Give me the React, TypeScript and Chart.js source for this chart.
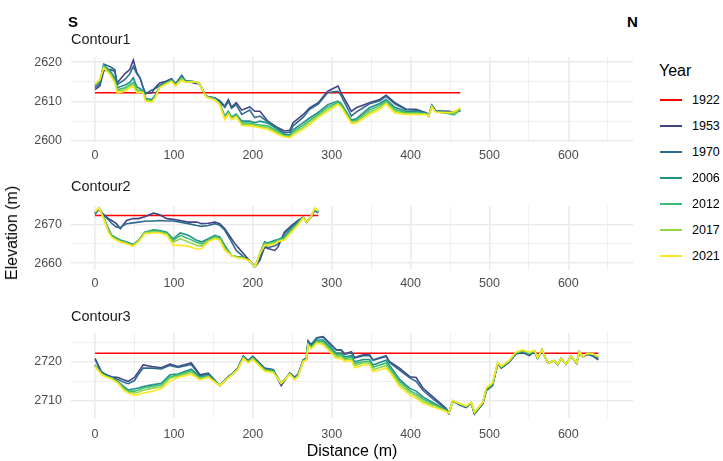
import React, { useEffect, useRef } from "react";
import { Chart, registerables } from "chart.js";
Chart.register(...registerables);

const FONT = '"Liberation Sans", Arial, Helvetica, sans-serif';
const YEARS = ["1922", "1953", "1970", "2006", "2012", "2017", "2021"];
const COLORS = ["#FF0000", "#414487", "#2F6B8E", "#21918C", "#3BBB75", "#8FD744", "#FDE725"];
const X_TICKS = [0, 50, 100, 150, 200, 250, 300, 350, 400, 450, 500, 550, 600, 650];
const REF_1922 = [2612.2, 2672.3, 2722.2];

// ---------- Contour1 ----------
const c1Dist = [0,6,11,19,25,28,38,44,48.5,53,57,61,64,72,76,82,89,97,102,110,114,127,132,141,152,158,164.5,169,173,179,186,196,202.5,209,219,232,240,247,251,264,272,283,295,308,312,325,331,348,361,369,380,394,407,420,423,427,432,449,455,463];
const c1Y1953 = [2613.0,2613.9,2617.8,2618.1,2617.7,2614.7,2617.1,2618.1,2620.5,2617.3,2616.0,2613.5,2612.0,2612.2,2613.5,2614.7,2615.1,2615.8,2614.5,2616.6,2615.4,2614.6,2614.5,2611.3,2610.9,2610.2,2608.8,2610.5,2608.6,2609.7,2607.8,2608.6,2607.5,2607.5,2605.0,2603.3,2602.5,2602.7,2604.6,2606.7,2608.4,2609.7,2612.6,2613.9,2612.2,2607.5,2608.4,2609.7,2610.5,2611.6,2609.7,2608.1,2608.0,2607.1,2606.3,2609.0,2607.5,2607.5,2607.3,2607.6];
const c1Y1970 = [2613.5,2614.5,2619.5,2618.8,2618.1,2614.3,2615.6,2617.0,2618.9,2617.0,2616.0,2613.5,2612.0,2612.9,2613.2,2614.1,2614.8,2615.6,2614.4,2616.5,2615.3,2615.0,2614.6,2611.3,2610.8,2610.0,2608.5,2610.0,2608.3,2609.2,2606.7,2607.8,2605.9,2606.3,2604.8,2603.1,2602.0,2602.2,2603.8,2606.0,2608.0,2609.3,2612.3,2612.6,2611.5,2606.3,2607.3,2609.4,2610.2,2611.3,2609.4,2607.9,2607.8,2607.1,2606.4,2609.0,2607.6,2607.4,2607.2,2607.7];
const c1Y2006 = [2614.0,2615.0,2619.2,2617.8,2616.0,2613.5,2614.2,2614.8,2616.0,2613.7,2613.3,2612.6,2610.8,2610.5,2611.5,2613.8,2614.6,2615.5,2614.3,2616.2,2615.2,2615.0,2614.6,2611.3,2610.7,2609.6,2606.2,2607.5,2606.0,2606.8,2605.0,2605.0,2604.6,2605.0,2604.5,2602.8,2601.6,2601.5,2602.8,2604.6,2605.8,2607.2,2609.2,2610.1,2609.5,2605.3,2605.6,2608.4,2609.5,2610.5,2608.5,2607.5,2607.4,2607.0,2606.5,2608.9,2607.5,2607.0,2606.7,2607.9];
const c1Y2012 = [2614.2,2615.3,2619.0,2617.3,2615.3,2613.0,2613.5,2614.2,2614.8,2613.0,2612.8,2612.5,2610.5,2610.2,2611.2,2613.7,2614.5,2615.3,2614.2,2616.0,2615.1,2615.0,2614.6,2611.2,2610.6,2609.5,2605.9,2607.2,2605.8,2606.5,2604.5,2604.5,2604.2,2604.0,2603.8,2602.3,2601.3,2601.2,2602.3,2604.0,2605.2,2606.7,2608.6,2609.8,2609.2,2605.0,2605.2,2607.8,2609.0,2610.1,2608.0,2607.1,2607.1,2606.9,2606.4,2608.8,2607.4,2606.9,2606.6,2608.0];
const c1Y2017 = [2614.3,2615.5,2618.8,2617.0,2615.0,2612.6,2613.0,2613.8,2614.3,2612.6,2612.5,2612.3,2610.3,2610.0,2611.0,2613.6,2614.4,2615.2,2614.1,2615.8,2615.0,2615.0,2614.6,2611.2,2610.5,2609.3,2605.6,2607.0,2605.6,2606.3,2604.2,2604.2,2603.9,2603.6,2603.3,2602.0,2601.2,2601.0,2601.9,2603.4,2604.7,2606.3,2608.0,2609.5,2608.8,2604.7,2604.8,2607.2,2608.5,2609.7,2607.5,2606.9,2606.9,2606.8,2606.3,2608.7,2607.3,2607.1,2607.0,2608.2];
const c1Y2021 = [2614.4,2615.6,2618.5,2616.8,2614.7,2612.2,2612.6,2613.5,2613.7,2612.2,2612.4,2612.2,2610.1,2609.8,2610.9,2613.5,2614.3,2615.1,2613.9,2615.4,2614.9,2615.0,2614.6,2611.1,2610.4,2609.2,2605.4,2606.7,2605.4,2606.1,2603.9,2603.8,2603.6,2603.3,2602.9,2601.6,2601.0,2600.8,2601.4,2602.9,2604.2,2605.9,2607.5,2609.2,2608.5,2604.4,2604.5,2606.7,2608.0,2609.4,2607.1,2606.7,2606.7,2606.7,2606.3,2608.6,2607.2,2607.2,2607.4,2608.4];

// ---------- Contour2 ----------
const c2Dist = [0,5,10,17,21,27,32,40,48,55,63,74,82,91,99,108,118,129,135,143.5,152,158,164.5,173,179,188,196,203,209,215,219,228,232,240,249,257,264,268,274,278.5,283];
const c2Y1953 = [2672.6,2674.0,2672.7,2671.5,2671.0,2670.2,2668.9,2671.0,2671.5,2671.5,2672.0,2672.9,2672.5,2671.5,2671.3,2671.0,2670.6,2670.6,2670.2,2670.3,2670.6,2670.2,2668.9,2666.3,2664.6,2662.5,2660.6,2659.1,2660.8,2664.2,2663.8,2663.3,2664.2,2668.0,2669.7,2671.0,2671.9,2670.6,2671.9,2673.6,2673.0];
const c2Y1970 = [2672.8,2674.0,2672.5,2671.2,2670.3,2669.3,2669.2,2670.2,2670.4,2670.6,2670.8,2670.9,2671.0,2670.9,2670.9,2670.6,2670.2,2669.7,2669.5,2669.7,2670.2,2669.8,2668.5,2665.5,2663.3,2661.7,2660.6,2659.1,2661.5,2664.6,2664.0,2664.5,2664.9,2667.6,2669.4,2670.8,2671.9,2670.6,2671.9,2673.8,2673.1];
const c2Y2006 = [2673.0,2674.2,2672.3,2668.9,2667.2,2666.5,2666.0,2665.5,2664.8,2665.9,2668.0,2668.6,2668.4,2668.0,2666.3,2667.8,2667.2,2665.9,2665.5,2666.3,2667.2,2666.8,2664.6,2662.0,2661.7,2661.5,2660.6,2659.1,2662.5,2665.5,2665.2,2665.9,2666.1,2666.8,2669.0,2670.5,2671.9,2670.6,2672.0,2674.0,2673.2];
const c2Y2012 = [2673.0,2674.2,2672.2,2668.6,2667.0,2666.3,2665.8,2665.3,2664.6,2665.8,2667.9,2668.4,2668.2,2667.8,2665.9,2667.2,2666.4,2665.4,2665.0,2666.0,2666.9,2666.5,2664.2,2662.0,2661.6,2661.4,2660.6,2659.1,2662.5,2665.2,2665.0,2665.6,2665.9,2666.5,2668.6,2670.2,2671.8,2670.6,2672.0,2674.0,2673.3];
const c2Y2017 = [2673.2,2674.3,2672.0,2668.3,2666.8,2666.1,2665.6,2665.1,2664.5,2665.6,2667.8,2668.1,2668.0,2667.5,2665.4,2666.3,2665.5,2664.6,2664.4,2665.8,2666.6,2666.2,2663.8,2662.0,2661.5,2661.3,2660.6,2659.1,2662.5,2664.9,2664.8,2665.3,2665.7,2666.2,2668.3,2670.0,2671.8,2670.6,2672.0,2674.1,2673.4];
const c2Y2021 = [2673.3,2674.3,2671.9,2668.0,2666.7,2665.9,2665.5,2665.0,2664.4,2665.5,2667.6,2667.8,2667.8,2667.2,2664.6,2664.6,2664.4,2663.6,2663.8,2665.5,2666.3,2665.9,2663.3,2662.0,2661.5,2661.2,2660.6,2659.1,2662.5,2664.6,2664.6,2665.0,2665.6,2665.9,2668.0,2669.7,2671.7,2670.6,2672.0,2674.2,2673.5];

// ---------- Contour3 ----------
const c3Dist = [0,8,13,21,29,36,42,50,55,61,72,84,95,105,122,133,143.5,158,169,175,181,188,194,200,215,226,236,247,253,257.5,264,268,270,274,281,289,297.5,306,312,316.5,325,329,340,348,352.3,369,373,386,399,407,415.6,428,445,448.5,453.5,462,470.5,477,481,491.5,496,504,510.5,515,525,533.5,542,550.5,557,561,566.5,574,582,586.5,591,597,603.5,610.5,614,618,624.5,631,638];
const c3Y1953 = [2720.9,2717.5,2716.8,2716.2,2716.0,2715.4,2715.0,2716.0,2717.5,2719.2,2718.8,2718.5,2719.4,2718.8,2719.7,2716.7,2717.1,2713.9,2716.2,2717.1,2718.4,2721.5,2720.3,2721.4,2718.4,2718.0,2713.9,2717.1,2716.0,2716.8,2720.5,2720.9,2725.4,2724.4,2726.2,2726.5,2724.8,2723.1,2723.1,2722.0,2722.6,2721.1,2721.8,2721.8,2720.5,2721.6,2720.1,2718.4,2716.2,2716.0,2713.3,2711.1,2708.1,2706.8,2710.0,2709.0,2708.3,2709.4,2706.6,2709.2,2712.6,2713.9,2719.5,2718.4,2719.9,2722.0,2722.4,2721.6,2722.6,2720.9,2723.0,2719.7,2720.3,2719.3,2720.9,2719.4,2721.4,2719.6,2722.6,2721.3,2721.9,2721.5,2720.5];
const c3Y1970 = [2720.6,2717.4,2716.7,2716.0,2715.5,2714.8,2714.4,2715.2,2716.8,2718.4,2718.4,2718.2,2719.1,2718.6,2719.3,2716.4,2716.9,2713.9,2716.2,2717.1,2718.4,2721.4,2720.2,2721.3,2718.3,2717.9,2714.3,2717.1,2716.0,2716.8,2720.5,2720.9,2725.2,2724.2,2726.1,2726.3,2724.6,2723.0,2723.0,2721.9,2722.4,2721.0,2721.6,2721.6,2720.4,2721.4,2719.9,2717.9,2715.9,2715.0,2712.7,2710.6,2707.9,2706.8,2710.0,2709.0,2708.4,2709.4,2706.7,2709.3,2712.7,2714.0,2719.6,2718.5,2720.0,2722.1,2722.5,2721.8,2722.7,2720.9,2723.0,2719.7,2720.3,2719.3,2720.9,2719.4,2721.4,2719.6,2722.5,2721.4,2722.0,2721.6,2720.8];
const c3Y2006 = [2719.2,2717.2,2716.5,2715.9,2715.0,2713.7,2712.8,2713.1,2713.3,2713.7,2714.1,2714.5,2716.7,2716.9,2718.1,2716.0,2716.6,2713.9,2716.1,2717.0,2718.3,2721.3,2720.1,2721.1,2718.1,2717.7,2714.5,2717.0,2715.8,2716.6,2720.4,2720.7,2724.9,2723.9,2725.6,2725.6,2723.9,2722.2,2722.2,2721.3,2721.6,2720.0,2720.6,2720.6,2719.2,2720.4,2719.2,2715.5,2713.2,2712.5,2711.0,2709.6,2707.6,2706.8,2710.0,2709.1,2708.5,2709.5,2706.8,2709.4,2712.9,2714.2,2719.7,2718.6,2720.1,2722.2,2722.7,2722.0,2722.8,2720.9,2723.1,2719.7,2720.3,2719.4,2720.9,2719.4,2721.4,2719.7,2722.5,2721.4,2722.1,2721.8,2721.0];
const c3Y2012 = [2719.0,2717.0,2716.4,2715.8,2714.8,2713.4,2712.5,2712.5,2712.8,2713.3,2713.7,2714.1,2716.2,2716.6,2717.7,2715.8,2716.4,2713.9,2716.0,2717.0,2718.2,2721.2,2720.0,2721.0,2718.0,2717.6,2714.5,2716.9,2715.6,2716.5,2720.3,2720.6,2724.6,2723.7,2725.3,2725.2,2723.5,2721.8,2721.8,2720.9,2721.1,2719.5,2720.1,2720.1,2718.6,2719.7,2718.6,2715.0,2712.6,2711.8,2710.5,2709.2,2707.5,2706.8,2710.0,2709.2,2708.5,2709.5,2706.9,2709.5,2713.0,2714.3,2719.8,2718.7,2720.2,2722.3,2722.8,2722.1,2722.8,2721.0,2723.1,2719.7,2720.3,2719.4,2720.9,2719.4,2721.4,2719.7,2722.5,2721.4,2722.2,2722.0,2721.2];
const c3Y2017 = [2718.9,2716.9,2716.3,2715.7,2714.7,2713.1,2712.2,2712.0,2712.2,2712.7,2713.2,2713.6,2715.8,2716.3,2717.3,2715.6,2716.2,2713.9,2716.0,2716.9,2718.1,2721.0,2719.9,2720.8,2717.8,2717.4,2714.5,2716.9,2715.5,2716.4,2720.2,2720.5,2724.4,2723.5,2725.0,2724.8,2723.0,2721.3,2721.3,2720.5,2720.7,2719.0,2719.7,2719.7,2718.0,2719.0,2718.0,2714.3,2712.1,2711.2,2709.9,2708.9,2707.4,2706.8,2710.0,2709.3,2708.6,2709.6,2707.0,2709.6,2713.2,2714.5,2719.8,2718.8,2720.3,2722.4,2723.0,2722.3,2722.9,2721.0,2723.1,2719.7,2720.3,2719.4,2720.9,2719.4,2721.4,2719.7,2722.6,2721.4,2722.2,2722.1,2721.3];
const c3Y2021 = [2718.8,2716.8,2716.2,2715.6,2714.5,2712.8,2712.0,2711.4,2711.6,2712.0,2712.4,2713.1,2715.0,2716.0,2716.8,2715.4,2716.0,2713.9,2715.9,2716.9,2718.0,2720.9,2719.7,2720.6,2717.6,2717.2,2714.5,2716.8,2715.4,2716.3,2720.1,2720.4,2724.2,2723.3,2724.8,2724.4,2722.6,2720.9,2720.9,2720.1,2720.3,2718.5,2719.2,2719.2,2717.5,2718.4,2717.5,2713.7,2711.5,2710.7,2709.4,2708.5,2707.3,2706.8,2710.0,2709.4,2708.7,2709.7,2707.1,2709.7,2713.4,2714.7,2719.9,2718.9,2720.4,2722.5,2723.1,2722.5,2722.9,2721.0,2723.1,2719.7,2720.3,2719.4,2720.9,2719.4,2721.4,2719.7,2722.6,2721.4,2722.2,2722.0,2721.4];

const c1Ticks = [2600, 2605, 2610, 2615, 2620];
const c2Ticks = [2660, 2665, 2670];
const c3Ticks = [2710, 2715, 2720, 2725];

const GRID = "#EBEBEB";
const CANVAS_W = 650;
const PLOT_LEFT = 71;
const PLOT_RIGHT = 633;

type PanelCfg = {
  title: string;
  dist: number[];
  series: number[][];
  ref: number;
  yMin: number;
  yMax: number;
  yTicks: number[];
  top: number;
  bottom: number;
  titleY: number;
  xPad: number;
};

const PANELS: PanelCfg[] = [
  { title: "Contour1", dist: c1Dist, series: [c1Y1953, c1Y1970, c1Y2006, c1Y2012, c1Y2017, c1Y2021], ref: REF_1922[0], yMin: 2599.7, yMax: 2621.3, yTicks: c1Ticks, top: 57, bottom: 142, titleY: 39, xPad: 6 },
  { title: "Contour2", dist: c2Dist, series: [c2Y1953, c2Y1970, c2Y2006, c2Y2012, c2Y2017, c2Y2021], ref: REF_1922[1], yMin: 2658.25, yMax: 2674.75, yTicks: c2Ticks, top: 205.5, bottom: 270, titleY: 186, xPad: 6 },
  { title: "Contour3", dist: c3Dist, series: [c3Y1953, c3Y1970, c3Y2006, c3Y2012, c3Y2017, c3Y2021], ref: REF_1922[2], yMin: 2705.6, yMax: 2727.4, yTicks: c3Ticks, top: 333, bottom: 418, titleY: 316, xPad: 9 },
];

function Panel({ cfg }: { cfg: PanelCfg }) {
  const ref = useRef<HTMLCanvasElement>(null);
  const padTop = 20;
  const xAxisH = 30;
  const canvasTop = cfg.top - padTop;
  const canvasH = padTop + (cfg.bottom - cfg.top) + xAxisH;

  useEffect(() => {
    if (!ref.current) return;
    const last = cfg.dist[cfg.dist.length - 1];
    const datasets: any[] = [
      {
        label: YEARS[0],
        data: [{ x: 0, y: cfg.ref }, { x: last, y: cfg.ref }],
        borderColor: COLORS[0],
        order: 6,
      },
      ...cfg.series.map((s, i) => ({
        label: YEARS[i + 1],
        data: cfg.dist.map((d, j) => ({ x: d, y: s[j] })),
        borderColor: COLORS[i + 1],
        order: 5 - i,
      })),
    ].map((d) => ({ ...d, borderWidth: 1.6, pointRadius: 0, fill: false, tension: 0 }));

    const chart = new Chart(ref.current, {
      type: "line",
      data: { datasets },
      options: {
        responsive: false,
        animation: false,
        devicePixelRatio: 1,
        layout: { padding: { left: 0, right: CANVAS_W - PLOT_RIGHT, top: padTop, bottom: 0 } },
        plugins: { legend: { display: false }, tooltip: { enabled: false } },
        scales: {
          x: {
            type: "linear",
            min: -30.5,
            max: 682,
            afterBuildTicks: (s: any) => {
              s.ticks = X_TICKS.map((v) => ({ value: v }));
            },
            afterFit: (s: any) => {
              s.height = xAxisH;
            },
            border: { display: false },
            grid: {
              color: GRID,
              drawTicks: false,
              lineWidth: (ctx: any) => (ctx.tick && ctx.tick.value % 100 === 0 ? 1.6 : 0.8),
            },
            ticks: {
              autoSkip: false,
              maxRotation: 0,
              padding: cfg.xPad,
              color: "#4D4D4D",
              font: { size: 12.5, family: FONT },
              callback: (v: any) => (Number(v) % 100 === 0 ? String(v) : ""),
            },
          },
          y: {
            type: "linear",
            min: cfg.yMin,
            max: cfg.yMax,
            afterBuildTicks: (s: any) => {
              s.ticks = cfg.yTicks.map((v) => ({ value: v }));
            },
            afterFit: (s: any) => {
              s.width = PLOT_LEFT;
            },
            border: { display: false },
            grid: {
              color: GRID,
              drawTicks: false,
              lineWidth: (ctx: any) => (ctx.tick && ctx.tick.value % 10 === 0 ? 1.6 : 0.8),
            },
            ticks: {
              padding: 9,
              color: "#4D4D4D",
              font: { size: 12.5, family: FONT },
              callback: (v: any) => (Number(v) % 10 === 0 ? String(v) : ""),
            },
          },
        },
      } as any,
    });
    return () => chart.destroy();
  }, []);

  return (
    <>
      <canvas
        ref={ref}
        width={CANVAS_W}
        height={canvasH}
        style={{ position: "absolute", left: 0, top: canvasTop, width: CANVAS_W, height: canvasH }}
      />
      <div style={{ position: "absolute", left: 71, top: cfg.titleY, transform: "translateY(-50%)", fontSize: 14.5, color: "#1A1A1A", whiteSpace: "nowrap" }}>
        {cfg.title}
      </div>
    </>
  );
}

export default function App() {
  return (
    <div
      style={{
        position: "fixed",
        left: 0,
        top: 0,
        width: 723,
        height: 461,
        background: "#FFFFFF",
        overflow: "hidden",
        fontFamily: FONT,
      }}
    >
      {PANELS.map((p) => (
        <Panel key={p.title} cfg={p} />
      ))}
      <div style={{ position: "absolute", left: 68, top: 21, transform: "translateY(-50%)", fontSize: 15, fontWeight: "bold", color: "#000" }}>S</div>
      <div style={{ position: "absolute", left: 627, top: 21, transform: "translateY(-50%)", fontSize: 15, fontWeight: "bold", color: "#000" }}>N</div>
      <div style={{ position: "absolute", left: 352, top: 451, transform: "translate(-50%,-50%)", fontSize: 16, color: "#000", whiteSpace: "nowrap" }}>Distance (m)</div>
      <div style={{ position: "absolute", left: 12, top: 233, transform: "translate(-50%,-50%) rotate(-90deg)", fontSize: 16, color: "#000", whiteSpace: "nowrap" }}>Elevation (m)</div>
      <div style={{ position: "absolute", left: 659, top: 71, transform: "translateY(-50%)", fontSize: 16, color: "#000" }}>Year</div>
      {YEARS.map((y, i) => (
        <React.Fragment key={y}>
          <div style={{ position: "absolute", left: 660, top: 100 + 26 * i - 1, width: 22, height: 2, background: COLORS[i] }} />
          <div style={{ position: "absolute", left: 692, top: 100 + 26 * i, transform: "translateY(-50%)", fontSize: 12.5, color: "#000" }}>{y}</div>
        </React.Fragment>
      ))}
    </div>
  );
}
